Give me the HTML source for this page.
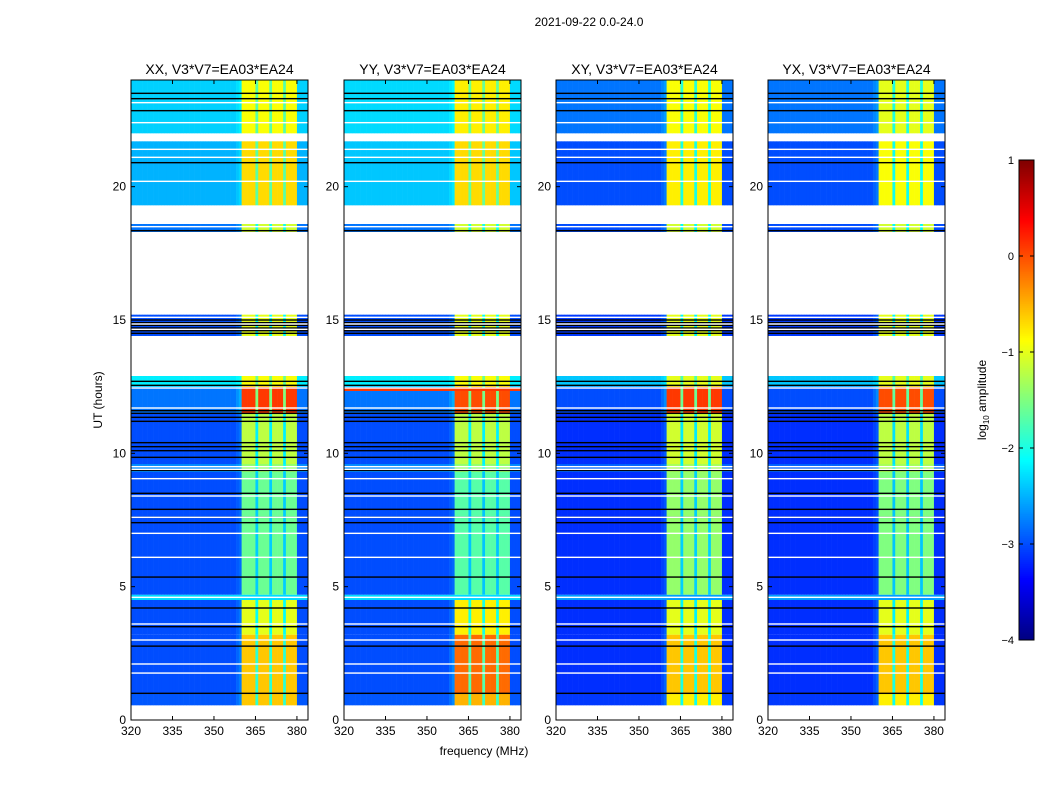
<!DOCTYPE html>
<html><head><meta charset="utf-8"><style>
html,body{margin:0;padding:0;background:#fff;}
svg{display:block;font-family:"Liberation Sans",sans-serif;}
</style></head><body>
<svg id="fig" width="1050" height="800" viewBox="0 0 1050 800" xmlns="http://www.w3.org/2000/svg">
<rect width="1050" height="800" fill="#fff"/>
<text x="589" y="26" font-size="12" text-anchor="middle">2021-09-22 0.0-24.0</text>
<text x="484" y="755" font-size="12" text-anchor="middle">frequency (MHz)</text>
<text x="102" y="400" font-size="12" text-anchor="middle" transform="rotate(-90 102 400)">UT (hours)</text>
<g id="panels"></g>
<g id="cbar"></g>
</svg>
<script>
// ---- data ----
const panelTitles = ["XX, V3*V7=EA03*EA24","YY, V3*V7=EA03*EA24","XY, V3*V7=EA03*EA24","YX, V3*V7=EA03*EA24"];
const freqStart = 320, freqStep = 1, nChan = 64;
// band profile per 1 MHz channel (0 = background, 1 = full band level)
const bandProfile = [0,0,0,0,0,0,0,0,0,0, 0,0,0,0,0,0,0,0,0,0, 0,0,0,0,0,0,0,0,0,0, 0,0,0,0,0,0,0,0,0.05,0.1,
  1,1,1,1,1,0.45,1,1,1,1, 0.45,1,1,1,1,0.45,1,1,1,1, 0,0,0,0];
// time segments [start h, end h]
const segStart = [0.55,1.0,3.2,4.5,4.7,9.3,9.6,11.5,12.5,14.4,18.3,19.3,22.0];
const segEnd   = [1.0,3.2,4.5,4.7,9.3,9.6,11.5,12.5,12.9,15.2,18.6,21.7,24.0];
// background (log10 amp) per panel per segment
const bgXX = [-2.95,-3.0,-3.0,-2.3,-3.0,-2.7,-3.0,-2.8,-2.2,-3.0,-2.8,-2.5,-2.35];
const bgYY = [-2.95,-3.0,-3.0,-2.3,-3.0,-2.7,-3.0,-2.8,-2.2,-3.0,-2.8,-2.4,-2.3];
const bgXY = [-3.1,-3.15,-3.15,-2.6,-3.15,-2.9,-3.15,-3.0,-2.4,-3.1,-3.0,-3.0,-2.8];
const bgYX = [-3.1,-3.15,-3.15,-2.6,-3.15,-2.9,-3.15,-3.0,-2.4,-3.1,-3.0,-3.0,-2.8];
// band level per panel per segment
const bandXX = [-0.6,-0.6,-1.0,-2.3,-1.6,-1.4,-1.2,0.1,-0.9,-1.0,-1.1,-0.7,-0.9];
const bandYY = [-0.5,-0.15,-0.8,-2.3,-1.7,-1.4,-1.2,0.0,-0.9,-1.0,-1.1,-0.7,-0.8];
const bandXY = [-0.8,-0.6,-1.0,-2.6,-1.4,-1.3,-1.1,0.1,-1.0,-1.0,-1.1,-0.8,-0.9];
const bandYX = [-0.8,-0.6,-1.0,-2.6,-1.5,-1.3,-1.2,0.0,-1.0,-1.0,-1.1,-0.9,-1.0];
// flagged rows
const blackLines = [1.0,2.77,3.5,4.2,5.36,7.4,7.6,7.9,8.5,9.36,9.85,10.1,10.25,10.4,11.2,11.35,11.5,11.6,12.55,12.7,14.5,14.6,14.7,14.8,14.9,15.0,18.35,20.9,22.85,23.3,23.5];
const whiteLines = [1.76,2.1,3.0,3.6,4.6,6.1,7.0,7.6,8.4,9.05,9.4,9.5,11.7,12.45,14.65,14.85,15.1,18.5,20.2,21.1,21.4,22.4,23.15];
const yTicks = [0,5,10,15,20];
const xTicks = [320,335,350,365,380];
const cbTicks = [1,0,-1,-2,-3,-4];
const bgs=[bgXX,bgYY,bgXY,bgYX], bands=[bandXX,bandYY,bandXY,bandYX];

// ---- layout ----
const panelX=[131,344,556,768], PW=177, PT=80, PB=720;
const NS="http://www.w3.org/2000/svg";
function mk(tag,attrs,parent){const e=document.createElementNS(NS,tag);for(const k in attrs)e.setAttribute(k,attrs[k]);parent.appendChild(e);return e;}
function jet(v){ // v in -4..1
  let t=(v+4)/5; t=Math.max(0,Math.min(1,t));
  const f=x=>Math.max(0,Math.min(1,x));
  const r=f(1.5-Math.abs(4*t-3)), g=f(1.5-Math.abs(4*t-2)), b=f(1.5-Math.abs(4*t-1));
  return `rgb(${Math.round(r*255)},${Math.round(g*255)},${Math.round(b*255)})`;
}
const yS=h=>PB-(h/24)*(PB-PT);
const panelsG=document.getElementById('panels');
for(let p=0;p<4;p++){
  const x0=panelX[p]; const xS=f=>x0+(f-320)/64*PW;
  const g=mk('g',{},panelsG);
  
  
  const t=mk('text',{x:x0+PW/2,y:74,'font-size':14,'text-anchor':'middle'},g);
  t.textContent=panelTitles[p];
  
  
  for(let s=0;s<segStart.length;s++){
    const y1=yS(segEnd[s]), y2=yS(segStart[s]);
    for(let c=0;c<nChan;c++){
      const f=freqStart+c*freqStep;
      const v=bgs[p][s]+bandProfile[c]*(bands[p][s]-bgs[p][s]);
      const r=mk('rect',{x:xS(f).toFixed(2),y:y1.toFixed(2),width:(xS(f+freqStep)-xS(f)+0.3).toFixed(2),height:(y2-y1).toFixed(2),fill:jet(v)},g);
      
      
    }
  }
  if(p===1){const r=mk('rect',{x:x0,y:yS(12.45),width:PW,height:3,fill:jet(0.1)},g);
    
    }
  blackLines.forEach(h=>{const l=mk('rect',{x:x0,y:yS(h)-0.7,width:PW,height:1.4,fill:'#000'},g);
    
    });
  whiteLines.forEach(h=>{const l=mk('rect',{x:x0,y:yS(h)-0.7,width:PW,height:1.4,fill:'#fff'},g);
    
    });
  const fr=mk('rect',{x:x0,y:PT,width:PW,height:PB-PT,fill:'none',stroke:'#000','stroke-width':1},g);
  
  
  yTicks.forEach(v=>{const y=yS(v);
    mk('line',{x1:x0,x2:x0+4,y1:y,y2:y,stroke:'#000'},g);mk('line',{x1:x0+PW,x2:x0+PW-4,y1:y,y2:y,stroke:'#000'},g);
    const tl=mk('text',{x:x0-5,y:y+4,'font-size':12,'text-anchor':'end'},g);tl.textContent=v;
    
    });
  xTicks.forEach(v=>{const x=xS(v);
    mk('line',{x1:x,x2:x,y1:PB,y2:PB-4,stroke:'#000'},g);mk('line',{x1:x,x2:x,y1:PT,y2:PT+4,stroke:'#000'},g);
    const tl=mk('text',{x:x,y:PB+15,'font-size':12,'text-anchor':'middle'},g);tl.textContent=v;
    
    });
}
// colorbar
const cb=document.getElementById('cbar');
const CX=1019,CW=15,CT=160,CB=640;
const cbY=v=>CB-(v+4)/5*(CB-CT);
for(let i=0;i<240;i++){const v=-4+i*5/240;
  mk('rect',{x:CX,y:(cbY(v+5/240)).toFixed(2),width:CW,height:2.3,fill:jet(v+2.5/240)},cb);}
mk('rect',{x:CX,y:CT,width:CW,height:CB-CT,fill:'none',stroke:'#000'},cb);
cbTicks.forEach(v=>{const y=cbY(v);
  mk('line',{x1:CX,x2:CX+4,y1:y,y2:y,stroke:'#000'},cb);mk('line',{x1:CX+CW,x2:CX+CW-4,y1:y,y2:y,stroke:'#000'},cb);
  const tl=mk('text',{x:CX-5,y:y+4,'font-size':11,'text-anchor':'end'},cb);tl.textContent=(v<0?'\u2212'+(-v):v);
  
  });
const cl=mk('text',{x:986,y:400,'font-size':12,'text-anchor':'middle',transform:'rotate(-90 986 400)'},cb);
cl.innerHTML='log<tspan font-size="8" dy="3">10</tspan><tspan dy="-3"> amplitude</tspan>';


</script>
</body></html>
